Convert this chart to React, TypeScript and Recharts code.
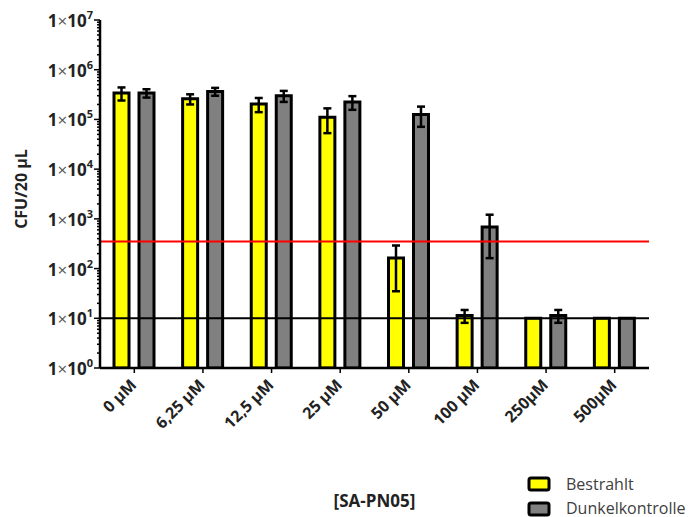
import { Bar, BarChart, ErrorBar, ReferenceLine, XAxis, YAxis } from 'recharts'

const categories = ['0 µM', '6,25 µM', '12,5 µM', '25 µM', '50 µM', '100 µM', '250µM', '500µM']
const bestrahlt = [3.4e5, 2.6e5, 2.05e5, 1.1e5, 163, 11.4, 10, 10]
const bestrahltSD = [1.0e5, 0.6e5, 0.65e5, 0.57e5, 128, 3.3, null, null]
const dunkel = [3.4e5, 3.65e5, 3.0e5, 2.25e5, 1.26e5, 687, 11.4, 10]
const dunkelSD = [0.65e5, 0.66e5, 0.75e5, 0.69e5, 0.55e5, 525, 3.3, null]
const detectionLimit = 350
const lowerLimit = 10
const decades = [0, 1, 2, 3, 4, 5, 6, 7]

const data = categories.map((name, i) => ({
    name,
    bestrahlt: bestrahlt[i],
    bestrahltSD: bestrahltSD[i],
    dunkel: dunkel[i],
    dunkelSD: dunkelSD[i],
}))

// major + minor log ticks
const yTicks: number[] = []
decades.forEach((d) => {
    yTicks.push(Math.pow(10, d))
    if (d < 7) {
        for (let m = 2; m <= 9; m++) yTicks.push(m * Math.pow(10, d))
    }
})

const FONT = '"Open Sans", sans-serif'

const YTick = (props: any) => {
    const { x, y, payload } = props
    const lg = Math.log10(payload.value)
    const major = Math.abs(lg - Math.round(lg)) < 1e-9
    return (
        <g>
            <line x1={x} x2={x - (major ? 6 : 3)} y1={y} y2={y} stroke="#000" strokeWidth={1.5} />
            {major && (
                <text x={x - 7} y={y} dy={7} textAnchor="end" fontFamily={FONT} fontSize={17} fontWeight={700} fill="#222">
                    1<tspan fontWeight={400} fill="#555">×</tspan>10
                    <tspan dy={-8} fontSize={11}>{Math.round(lg)}</tspan>
                </text>
            )}
        </g>
    )
}

const XTick = (props: any) => {
    const { x, y, payload } = props
    const ex = x + 3
    const ey = y + 11
    return (
        <text
            x={ex}
            y={ey}
            textAnchor="end"
            transform={`rotate(-45 ${ex} ${ey})`}
            fontFamily={FONT}
            fontSize={16}
            fontWeight={700}
            fill="#222"
        >
            {payload.value}
        </text>
    )
}

const App = () => {
    return (
        <div style={{ position: 'fixed', left: 0, top: 0, width: 691, height: 517, background: '#fff' }}>
            <BarChart
                width={691}
                height={517}
                data={data}
                margin={{ top: 20, right: 42, left: 0, bottom: 0 }}
                barSize={15}
                barGap={10}
            >
                <XAxis
                    dataKey="name"
                    height={149}
                    axisLine={{ stroke: '#000', strokeWidth: 2.5 }}
                    tickLine={{ stroke: '#000', strokeWidth: 1.5 }}
                    tickSize={5}
                    tick={<XTick />}
                    interval={0}
                    label={{
                        value: '[SA-PN05]',
                        position: 'insideBottom',
                        offset: 10,
                        style: { fontFamily: FONT, fontSize: 17, fontWeight: 700, fill: '#222' },
                    }}
                />
                <YAxis
                    scale="log"
                    domain={[1, 1e7]}
                    allowDataOverflow
                    ticks={yTicks}
                    interval={0}
                    width={100}
                    axisLine={{ stroke: '#000', strokeWidth: 2.5 }}
                    tickLine={false}
                    tickSize={0}
                    tickMargin={0}
                    tick={<YTick />}
                    label={{
                        content: () => (
                            <text
                                x={21}
                                y={189}
                                dy={6}
                                textAnchor="middle"
                                transform="rotate(-90 21 189)"
                                fontFamily={FONT}
                                fontSize={16}
                                fontWeight={700}
                                fill="#222"
                            >
                                CFU/20 µL
                            </text>
                        ),
                    }}
                />
                <Bar dataKey="bestrahlt" fill="#FFFF00" stroke="#000" strokeWidth={3} isAnimationActive={false}>
                    <ErrorBar dataKey="bestrahltSD" width={4} stroke="#000" strokeWidth={2.5} />
                </Bar>
                <Bar dataKey="dunkel" fill="#808080" stroke="#000" strokeWidth={3} isAnimationActive={false}>
                    <ErrorBar dataKey="dunkelSD" width={4} stroke="#000" strokeWidth={2.5} />
                </Bar>
                <ReferenceLine y={detectionLimit} stroke="#FF0000" strokeWidth={2} />
                <ReferenceLine y={lowerLimit} stroke="#000" strokeWidth={2} />
            </BarChart>
            <svg width={691} height={517} style={{ position: 'absolute', left: 0, top: 0, pointerEvents: 'none' }}>
                <rect x={529} y={478} width={20} height={12} rx={2} fill="#FFFF00" stroke="#000" strokeWidth={3} />
                <text x={566} y={490} fontFamily={FONT} fontSize={16} fill="#404040">Bestrahlt</text>
                <rect x={529} y={503} width={20} height={12} rx={2} fill="#808080" stroke="#000" strokeWidth={3} />
                <text x={566} y={514} fontFamily={FONT} fontSize={16} fill="#404040">Dunkelkontrolle</text>
            </svg>
        </div>
    )
}

export default App
